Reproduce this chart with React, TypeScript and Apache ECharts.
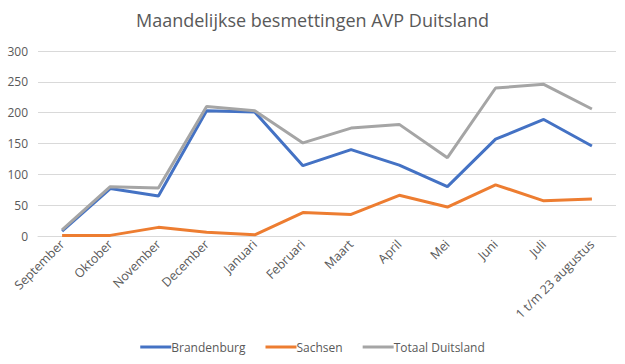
import React, { useEffect, useRef } from "react";
import * as echarts from "echarts";

const categories = ["September", "Oktober", "November", "December", "Januari", "Februari", "Maart", "April", "Mei", "Juni", "Juli", "1 t/m 23 augustus"];
const brandenburg = [8, 77, 65, 203, 201, 114, 140, 115, 80, 157, 189, 146];
const sachsen = [1, 1, 14, 6, 2, 38, 35, 66, 47, 83, 57, 60];
const totaal = [10, 80, 78, 210, 203, 151, 175, 181, 127, 240, 246, 206];
const titleText = "Maandelijkse besmettingen AVP Duitsland";

const font = "'Open Sans', 'Noto Sans', sans-serif";

export default function App() {
  const ref = useRef<HTMLDivElement>(null);
  useEffect(() => {
    const chart = echarts.init(ref.current!, null, { renderer: "svg" });
    const mk = (name: string, data: number[], color: string) => ({
      name,
      type: "line",
      data,
      symbol: "none",
      showSymbol: false,
      lineStyle: { color, width: 3 },
      itemStyle: { color },
    });
    chart.setOption({
      animation: false,
      backgroundColor: "#ffffff",
      title: {
        text: titleText,
        left: "center",
        top: 6,
        textStyle: { fontFamily: font, fontSize: 18, fontWeight: "normal", color: "#595959" },
      },
      grid: { left: 38, right: 9, top: 51, bottom: 128 },
      legend: {
        bottom: 6,
        left: "center",
        icon: "rect",
        itemWidth: 31,
        itemHeight: 3,
        itemGap: 20,
        textStyle: { fontFamily: font, fontSize: 12, color: "#595959", padding: [0, 0, 0, -5] },
        data: ["Brandenburg", "Sachsen", "Totaal Duitsland"],
      },
      xAxis: {
        type: "category",
        data: categories,
        boundaryGap: true,
        axisLine: { lineStyle: { color: "#d9d9d9" } },
        axisTick: { show: false },
        axisLabel: { rotate: 45, interval: 0, fontFamily: font, fontSize: 12.5, color: "#595959", margin: 6 },
      },
      yAxis: {
        type: "value",
        min: 0,
        max: 300,
        interval: 50,
        axisLine: { show: false },
        axisTick: { show: false },
        splitLine: { lineStyle: { color: "#d9d9d9" } },
        axisLabel: { fontFamily: font, fontSize: 12, color: "#595959", margin: 10 },
      },
      series: [
        mk("Brandenburg", brandenburg, "#4472C4"),
        mk("Sachsen", sachsen, "#ED7D31"),
        mk("Totaal Duitsland", totaal, "#A5A5A5"),
      ],
    });
    return () => chart.dispose();
  }, []);
  return <div ref={ref} style={{ width: 625, height: 364, position: "absolute", left: 0, top: 0 }} />;
}
